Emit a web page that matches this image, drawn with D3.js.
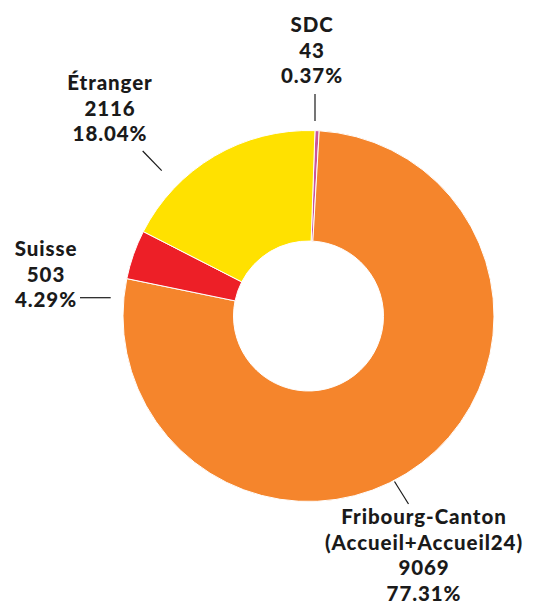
<!DOCTYPE html>
<html>
<head>
<meta charset="utf-8">
<script src="https://cdn.jsdelivr.net/npm/d3@7"></script>
<style>
html,body{margin:0;padding:0;background:#fff;}
svg{display:block;}
text{font-family:Lato,"Open Sans",sans-serif;font-weight:900;fill:#1a1a1a;}
</style>
</head>
<body>
<svg id="chart" width="535" height="603"></svg>
<script>
// Data
const categories = ["SDC", "Fribourg-Canton\n(Accueil+Accueil24)", "Suisse", "Étranger"];
const values = [43, 9069, 503, 2116];
const percents = ["0.37%", "77.31%", "4.29%", "18.04%"];
const colors = ["#C9559D", "#F5852C", "#ED1F27", "#FFE100"];

// Layout (annotation positions)
const cx = 308.5, cy = 316, outerR = 185.5, innerR = 75;
const startOffset = 2 * Math.PI / 180;
const labelLayout = [
  {x: 312, y: 32, line: [315, 121, 315, 94]},
  {x: 424, y: 524, line: [394.5, 481.5, 408.5, 504]},
  {x: 46, y: 256, line: [80, 297.7, 110.7, 297.7]},
  {x: 110, y: 90, line: [161.7, 170.7, 142.7, 151]}
];
const lineGap = 25.5;

const svg = d3.select("#chart");
const g = svg.append("g").attr("transform", `translate(${cx},${cy})`);

const pie = d3.pie().sort(null).value(d => d)
  .startAngle(startOffset).endAngle(2 * Math.PI + startOffset);
const arc = d3.arc().innerRadius(innerR).outerRadius(outerR);

g.selectAll("path").data(pie(values)).join("path")
  .attr("d", arc)
  .attr("fill", (d, i) => colors[i])
  .attr("stroke", "#fff")
  .attr("stroke-width", 1);

categories.forEach((c, i) => {
  const L = labelLayout[i];
  svg.append("line")
    .attr("x1", L.line[0]).attr("y1", L.line[1])
    .attr("x2", L.line[2]).attr("y2", L.line[3])
    .attr("stroke", "#1a1a1a").attr("stroke-width", 1.2);
  const lines = c.split("\n").concat([String(values[i]), percents[i]]);
  const t = svg.append("text")
    .attr("text-anchor", "middle")
    .attr("font-size", 20.5)
    .attr("letter-spacing", 0.9);
  lines.forEach((s, k) => {
    t.append("tspan").attr("x", L.x).attr("y", L.y + k * lineGap).text(s);
  });
});
</script>
</body>
</html>
